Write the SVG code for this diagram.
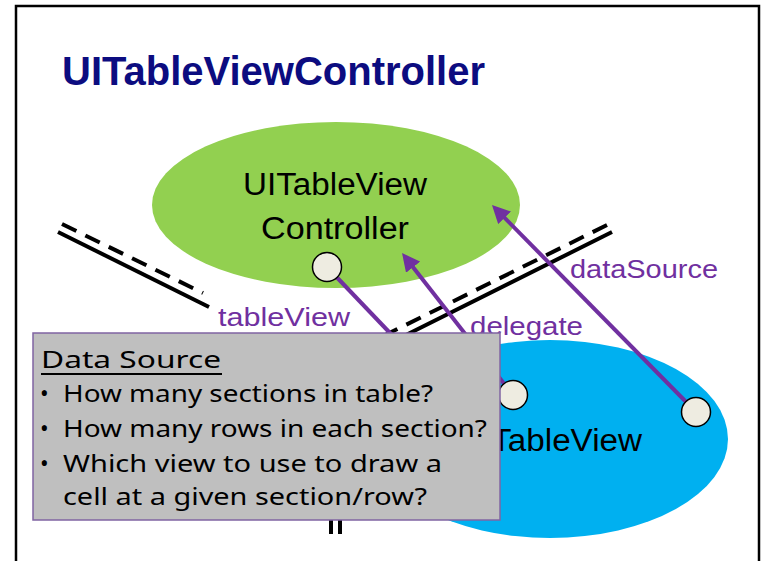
<svg xmlns="http://www.w3.org/2000/svg" width="761" height="561" viewBox="0 0 761 561">
<style>
.frame{fill:none;stroke:#000;stroke-width:2.5}
.title{font-family:"Liberation Sans",Arial,sans-serif;font-weight:bold;font-size:40px;fill:#0c0c80}
.node{font-family:"Liberation Sans",Arial,sans-serif;font-size:31px;fill:#000;text-anchor:middle}
.lbl{font-family:"Liberation Sans",Arial,sans-serif;font-size:26px;fill:#7030a0}
.solid{stroke:#000;stroke-width:4;fill:none}
.dash{stroke:#000;stroke-width:4;fill:none;stroke-dasharray:16 10}
.conn{stroke:#7030a0;stroke-width:4;fill:none;marker-end:url(#ah)}
.port{fill:#eeece1;stroke:#000;stroke-width:1.5}
.box{fill:#bfbfbf;stroke:#8064a2;stroke-width:1.5}
.note{font-family:"Noto Sans","DejaVu Sans",sans-serif;font-size:23px;fill:#000}
</style>
<defs>
<marker id="ah" markerUnits="userSpaceOnUse" markerWidth="20" markerHeight="18" refX="8" refY="9" orient="auto">
<path d="M0,0 L18,9 L0,18 Z" fill="#7030a0"/>
</marker>
</defs>
<rect class="frame" x="16" y="6" width="743" height="600"/>
<text class="title" x="62" y="85" textLength="423" lengthAdjust="spacingAndGlyphs">UITableViewController</text>

<g id="controller">
<ellipse cx="336" cy="205" rx="184" ry="83" fill="#92d050"/>
<text class="node" x="335" y="195" textLength="184" lengthAdjust="spacingAndGlyphs">UITableView</text>
<text class="node" x="335" y="239" textLength="148" lengthAdjust="spacingAndGlyphs">Controller</text>
</g>

<g id="tableview">
<ellipse cx="550" cy="439" rx="178" ry="99" fill="#00b0f0"/>
<text class="node" x="550" y="451" textLength="184" lengthAdjust="spacingAndGlyphs">UITableView</text>
</g>

<g id="boundaries">
<line class="solid" x1="58" y1="232" x2="209" y2="307"/>
<line class="dash" x1="62" y1="224" x2="203" y2="293"/>
<line class="solid" x1="612" y1="232" x2="340" y2="368"/>
<line class="dash" x1="607" y1="225" x2="331" y2="362"/>
<line class="solid" x1="340" y1="368" x2="340" y2="534"/>
<line class="solid" x1="331" y1="500" x2="331" y2="534"/>
</g>

<g id="connectors">
<line class="conn" x1="327" y1="267" x2="432" y2="377"/>
<line class="conn" x1="513" y1="395" x2="408.2" y2="260.9"/>
<line class="conn" x1="696" y1="412" x2="499" y2="212.1"/>
</g>

<g id="ports">
<circle class="port" cx="327" cy="267" r="14.5"/>
<circle class="port" cx="513" cy="395" r="14.5"/>
<circle class="port" cx="696" cy="412" r="14.5"/>
</g>

<g id="labels">
<text class="lbl" x="218" y="326" textLength="132" lengthAdjust="spacingAndGlyphs">tableView</text>
<text class="lbl" x="470" y="335" textLength="113" lengthAdjust="spacingAndGlyphs">delegate</text>
<text class="lbl" x="570" y="278" textLength="148" lengthAdjust="spacingAndGlyphs">dataSource</text>
</g>

<g id="datasource-note">
<rect class="box" x="33" y="333" width="467" height="187"/>
<text class="note" x="41" y="368" textLength="180" lengthAdjust="spacingAndGlyphs">Data Source</text>
<line x1="41" y1="374" x2="222" y2="374" stroke="#000" stroke-width="2"/>
<text class="note" x="40" y="402">•</text>
<text class="note" x="63" y="402" textLength="370" lengthAdjust="spacingAndGlyphs">How many sections in table?</text>
<text class="note" x="40" y="437">•</text>
<text class="note" x="63" y="437" textLength="424" lengthAdjust="spacingAndGlyphs">How many rows in each section?</text>
<text class="note" x="40" y="472">•</text>
<text class="note" x="63" y="472" textLength="379" lengthAdjust="spacingAndGlyphs">Which view to use to draw a</text>
<text class="note" x="63" y="505" textLength="364" lengthAdjust="spacingAndGlyphs">cell at a given section/row?</text>
</g>
</svg>
